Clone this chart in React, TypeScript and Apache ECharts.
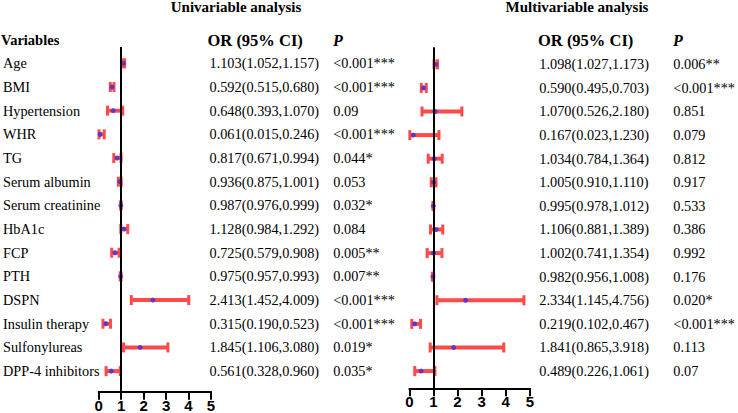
import React, { useEffect, useRef } from "react";
import * as echarts from "echarts";

// Row labels
const variables = [
  "Age",
  "BMI",
  "Hypertension",
  "WHR",
  "TG",
  "Serum albumin",
  "Serum creatinine",
  "HbA1c",
  "FCP",
  "PTH",
  "DSPN",
  "Insulin therapy",
  "Sulfonylureas",
  "DPP-4 inhibitors",
];

// Univariable odds ratios with 95% CI
const uniOR = [1.103, 0.592, 0.648, 0.061, 0.817, 0.936, 0.987, 1.128, 0.725, 0.975, 2.413, 0.315, 1.845, 0.561];
const uniLow = [1.052, 0.515, 0.393, 0.015, 0.671, 0.875, 0.976, 0.984, 0.579, 0.957, 1.452, 0.19, 1.106, 0.328];
const uniHigh = [1.157, 0.68, 1.07, 0.246, 0.994, 1.001, 0.999, 1.292, 0.908, 0.993, 4.009, 0.523, 3.08, 0.96];
const uniP = ["<0.001***", "<0.001***", "0.09", "<0.001***", "0.044*", "0.053", "0.032*", "0.084", "0.005**", "0.007**", "<0.001***", "<0.001***", "0.019*", "0.035*"];

// Multivariable odds ratios with 95% CI
const multiOR = [1.098, 0.59, 1.07, 0.167, 1.034, 1.005, 0.995, 1.106, 1.002, 0.982, 2.334, 0.219, 1.841, 0.489];
const multiLow = [1.027, 0.495, 0.526, 0.023, 0.784, 0.91, 0.978, 0.881, 0.741, 0.956, 1.145, 0.102, 0.865, 0.226];
const multiHigh = [1.173, 0.703, 2.18, 1.23, 1.364, 1.11, 1.012, 1.389, 1.354, 1.008, 4.756, 0.467, 3.918, 1.061];
const multiP = ["0.006**", "<0.001***", "0.851", "0.079", "0.812", "0.917", "0.533", "0.386", "0.992", "0.176", "0.020*", "<0.001***", "0.113", "0.07"];

const xTicks = [0, 1, 2, 3, 4, 5];

const SERIF = "Liberation Serif";
const SANS = "Liberation Sans";
const RED = "#ff4a4a";
const BLUE = "#3b2fe6";
const TEXT_SIZE = 14.3;

const rowIdx = variables.map((_, i) => i);
const fmt = (v: number) => v.toFixed(3);
const orText = (or: number[], lo: number[], hi: number[]) =>
  or.map((v, i) => `${fmt(v)}(${fmt(lo[i])},${fmt(hi[i])})`);

function labelAxis(gridIndex: number, min: number, max: number, position: string, offset: number, margin: number, texts: string[], align: string) {
  return {
    type: "value",
    gridIndex,
    min,
    max,
    inverse: true,
    position,
    offset,
    axisLine: { show: false },
    axisTick: { show: false },
    splitLine: { show: false },
    axisLabel: {
      show: texts.length > 0,
      customValues: rowIdx,
      formatter: (v: number) => texts[Math.round(v)] ?? "",
      align,
      margin,
      color: "#000",
      fontFamily: SERIF,
      fontSize: TEXT_SIZE,
    },
  };
}

function xAxisFor(gridIndex: number) {
  return {
    type: "value",
    gridIndex,
    position: "bottom",
    min: xTicks[0],
    max: xTicks[xTicks.length - 1],
    interval: 1,
    axisLine: { show: true, onZero: false, lineStyle: { color: "#000", width: 2 } },
    axisTick: { show: true, inside: false, length: 8, lineStyle: { color: "#000", width: 2 } },
    splitLine: { show: false },
    axisLabel: {
      color: "#000",
      fontFamily: SANS,
      fontWeight: "bold",
      fontSize: 15,
      margin: 6,
    },
  };
}

const renderErrorBar = (_params: any, api: any) => {
  const lo = api.coord([api.value(0), api.value(2)]);
  const hi = api.coord([api.value(1), api.value(2)]);
  const capH = 5;
  return {
    type: "group",
    children: [
      {
        type: "line",
        shape: { x1: lo[0], y1: lo[1], x2: hi[0], y2: hi[1] },
        style: { stroke: RED, lineWidth: 4 },
      },
      {
        type: "line",
        shape: { x1: lo[0], y1: lo[1] - capH, x2: lo[0], y2: lo[1] + capH },
        style: { stroke: RED, lineWidth: 3 },
      },
      {
        type: "line",
        shape: { x1: hi[0], y1: hi[1] - capH, x2: hi[0], y2: hi[1] + capH },
        style: { stroke: RED, lineWidth: 3 },
      },
    ],
  };
};

function panelSeries(idx: number, or: number[], lo: number[], hi: number[]) {
  return [
    {
      type: "scatter",
      xAxisIndex: idx,
      yAxisIndex: idx * 3,
      data: [],
      z: 1,
      markLine: {
        silent: true,
        symbol: "none",
        label: { show: false },
        lineStyle: { color: "#000", width: 2, type: "solid" },
        data: [{ xAxis: 1 }],
      },
    },
    {
      type: "custom",
      xAxisIndex: idx,
      yAxisIndex: idx * 3,
      z: 2,
      renderItem: renderErrorBar,
      encode: { x: [0, 1], y: 2 },
      data: lo.map((l, i) => [l, hi[i], i]),
    },
    {
      type: "scatter",
      xAxisIndex: idx,
      yAxisIndex: idx * 3,
      z: 3,
      symbol: "circle",
      symbolSize: 5,
      itemStyle: { color: BLUE },
      data: or.map((v, i) => [v, i]),
    },
  ];
}

const textEl = (x: number, y: number, text: string, size: number, style: string, align = "left") => ({
  type: "text",
  x,
  y,
  style: {
    text,
    fill: "#000",
    fontFamily: SERIF,
    fontWeight: "bold",
    fontStyle: style,
    fontSize: size,
    align,
    verticalAlign: "middle",
  },
});

export default function App() {
  const ref = useRef<HTMLDivElement>(null);

  useEffect(() => {
    if (!ref.current) return;
    const chart = echarts.init(ref.current, null, { renderer: "svg" });

    const L = { left: 96.7, top: 47, width: 114.3, height: 344.7, min: -0.69, max: 13.87 };
    const R = { left: 409.3, top: 47.3, width: 120.7, height: 341, min: -0.72, max: 13.73 };

    chart.setOption({
      animation: false,
      backgroundColor: "#fff",
      grid: [
        { left: L.left, top: L.top, width: L.width, height: L.height },
        { left: R.left, top: R.top, width: R.width, height: R.height },
      ],
      xAxis: [xAxisFor(0), xAxisFor(1)],
      yAxis: [
        labelAxis(0, L.min, L.max, "left", 0, L.left - 1, variables, "left"),
        labelAxis(0, L.min, L.max, "right", -1.5, 0, orText(uniOR, uniLow, uniHigh), "left"),
        labelAxis(0, L.min, L.max, "right", 122.3, 0, uniP, "left"),
        labelAxis(1, R.min, R.max, "left", 0, 0, [], "left"),
        labelAxis(1, R.min, R.max, "right", 9.5, 0, orText(multiOR, multiLow, multiHigh), "left"),
        labelAxis(1, R.min, R.max, "right", 143.5, 0, multiP, "left"),
      ],
      graphic: [
        textEl(236, 7, "Univariable analysis", 15, "normal", "center"),
        textEl(577, 7, "Multivariable analysis", 15, "normal", "center"),
        textEl(1, 40, "Variables", 14.5, "normal"),
        textEl(207.5, 40, "OR (95% CI)", 16.5, "normal"),
        textEl(333, 40, "P", 16, "italic"),
        textEl(538, 40, "OR (95% CI)", 16.5, "normal"),
        textEl(673, 40, "P", 16, "italic"),
      ],
      series: [
        ...panelSeries(0, uniOR, uniLow, uniHigh),
        ...panelSeries(1, multiOR, multiLow, multiHigh),
      ],
    });

    return () => chart.dispose();
  }, []);

  return (
    <div
      ref={ref}
      style={{ position: "fixed", left: 0, top: 0, width: 738, height: 413, background: "#fff" }}
    />
  );
}
